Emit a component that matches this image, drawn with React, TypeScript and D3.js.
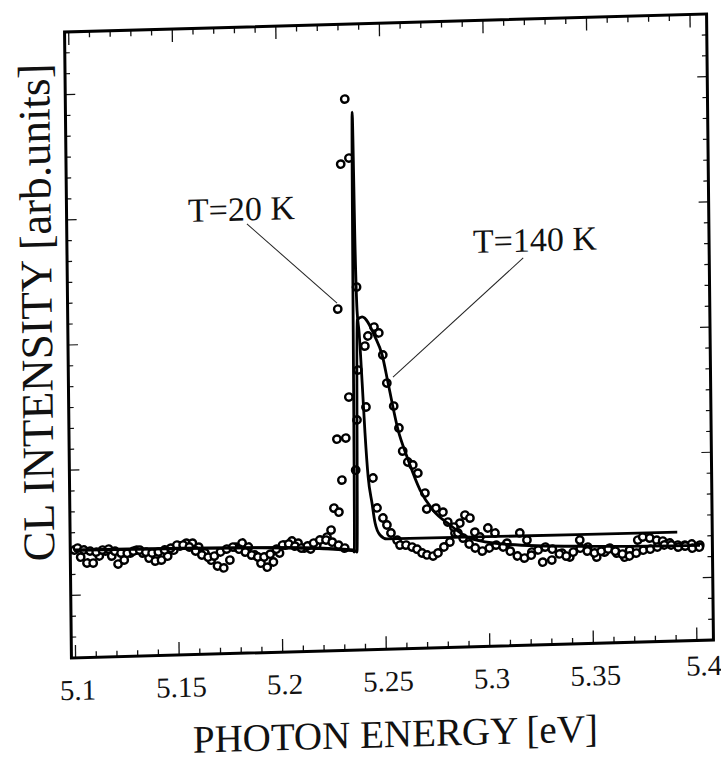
import React from "react";
import * as d3 from "d3";

// ---- data (photon energy in eV, CL intensity in arb. units) ----
const energy20K = [5.100,5.103,5.106,5.109,5.112,5.115,5.118,5.121,5.124,5.127,5.130,5.133,5.136,5.139,5.142,5.145,5.148,5.151,5.154,5.157,5.160,5.163,5.166,5.169,5.172,5.175,5.178,5.181,5.184,5.187,5.190,5.193,5.196,5.199,5.202,5.205,5.208,5.211,5.214,5.217,
  5.2220,5.2240,5.2255,5.2273,5.2279,5.2284,5.2295,5.2306,5.2316,5.2329,5.2333,5.2346,5.2376,5.2415,5.2445,5.2463,5.2491,5.2510,5.2529,5.2558,5.2572,5.2601,5.2630,5.2654,5.2678,5.2702,5.2731,5.2755,5.2784,5.2813,5.2838,5.2862,5.2887,5.2911,5.2934,5.2958,5.2997,5.3031,5.3088,5.3151,5.3185,5.3208,5.3260,5.3304,5.3353,5.3391,5.3440,5.3478,5.3521,5.3560,5.3584,5.3618,5.3656,5.3680,5.3720,5.3744,5.3778,5.3811,5.3840,5.3874,5.3912,5.3946,5.3980,5.4019];
const intensity20K = [5.17,4.82,4.53,4.52,4.85,5.08,4.83,4.44,4.62,4.95,5.08,4.93,4.68,4.53,4.57,4.75,5.03,5.22,5.35,5.34,5.14,4.85,4.50,4.21,4.11,4.48,5.09,5.28,5.08,4.69,4.29,4.09,4.33,4.75,5.12,5.31,5.20,4.95,4.90,5.08,
  5.45,5.78,6.83,10.13,6.63,16.36,8.16,23.30,10.17,26.41,12.13,23.58,17.39,11.63,8.22,6.78,6.29,5.95,5.56,5.21,4.97,4.96,4.86,4.75,4.56,4.46,4.40,4.54,4.82,5.05,5.47,5.94,6.32,6.17,5.49,5.25,5.67,5.42,4.92,5.39,5.04,4.46,3.96,4.05,4.37,4.17,4.97,4.62,4.13,4.36,4.54,4.29,4.09,4.42,4.89,5.03,4.97,4.86,4.81,4.71,4.60,4.59,4.63,4.57];

const energy140K = [5.1015,5.1045,5.1075,5.1105,5.1135,5.1165,5.1195,5.1225,5.1255,5.1285,5.1315,5.1345,5.1375,5.1405,5.1435,5.1465,5.1495,5.1525,5.1555,5.1585,5.1615,5.1645,5.1675,5.1705,5.1735,5.1765,5.1795,5.1825,5.1855,5.1885,5.1915,5.1945,5.1975,5.2005,5.2035,5.2065,5.2095,5.2125,5.2155,5.2185,5.2215,5.2245,5.2275,5.2305,
  5.2362,5.2371,5.2378,5.2413,5.2428,5.2458,5.2481,5.2499,5.2517,5.2549,5.2573,5.2590,5.2614,5.2638,5.2662,5.2695,5.2703,5.2747,5.2781,5.2804,5.2833,5.2852,5.2877,5.2906,5.2935,5.2969,5.3003,5.3036,5.3070,5.3104,5.3138,5.3172,5.3205,5.3239,5.3273,5.3307,5.3341,5.3374,5.3408,5.3442,5.3476,5.3510,5.3543,5.3577,5.3611,5.3645,5.3679,5.3712,5.3746,5.3780,5.3814,5.3848,5.3881,5.3915,5.3949,5.3983,5.4017];
const intensity140K = [5.26,5.16,5.10,5.04,5.13,5.17,5.06,4.96,4.95,5.04,5.08,4.97,4.92,4.96,5.05,5.13,5.27,5.26,5.16,4.96,4.76,4.65,4.69,4.88,5.01,5.10,4.99,4.84,4.69,4.59,4.58,4.71,4.94,5.13,5.17,5.06,4.96,5.05,5.18,5.32,5.31,5.20,5.05,4.90,
  8.62,11.02,13.41,14.55,15.03,15.45,15.16,14.10,12.75,11.64,10.58,9.47,8.94,8.79,8.39,7.43,6.66,6.69,6.49,6.01,5.76,5.47,5.22,4.93,4.73,4.57,4.71,4.84,4.74,4.53,4.29,4.18,4.31,4.55,4.68,4.57,4.33,4.22,4.40,4.58,4.43,4.33,4.41,4.50,4.39,4.24,4.14,4.27,4.40,4.44,4.53,4.62,4.61,4.50,4.54,4.43,4.47];

const fit20KEnergy = [5.100,5.200,5.2345,5.2351,5.2364,5.2371,5.2377,5.2386,5.2398,5.2409,5.2422,5.2439,5.2453,5.2476,5.2510,5.3911];
const fit20KIntensity = [5.15,5.00,4.80,4.70,25.78,19.17,16.29,15.19,12.78,10.38,8.27,7.02,6.06,5.48,5.28,5.22];

const fit140KEnergy = [5.100,5.200,5.2355,5.2364,5.2377,5.2401,5.2463,5.2496,5.2523,5.2569,5.2611,5.2672,5.2733,5.2815,5.2897,5.2959,5.3100,5.3500,5.4020];
const fit140KIntensity = [5.17,5.00,4.75,4.69,15.81,15.95,14.97,14.10,12.75,10.48,9.18,7.58,6.60,5.86,5.26,5.06,4.85,4.65,4.55];

const xTickLabels = [5.1, 5.15, 5.2, 5.25, 5.3, 5.35, 5.4];
const annotationText = ["T=20 K", "T=140 K"];
const annotationAt = [[5.1566, 20.73], [5.2940, 18.86]];
const leaderFrom = [[5.1850, 20.56], [5.3182, 18.56]];
const leaderTo = [[5.2281, 16.65], [5.2547, 13.03]];

const xTitle = "PHOTON ENERGY [eV]";
const yTitle = "CL INTENSITY [arb.units]";

// ---- layout ----
const W = 721, H = 760;
const L = 68, R = 710, T = 23, B = 649;
const FONT = "'Liberation Serif', 'Times New Roman', serif";

export default function App() {
  const x = d3.scaleLinear().domain([5.098, 5.408]).range([L, R]);
  const y = d3.scaleLinear().domain([0, 30]).range([B, T]);

  const line = d3.line<[number, number]>().x(d => x(d[0])).y(d => y(d[1])).curve(d3.curveMonotoneX);
  const fit20 = line(fit20KEnergy.map((e, i) => [e, fit20KIntensity[i]] as [number, number]));
  const fit140 = line(fit140KEnergy.map((e, i) => [e, fit140KIntensity[i]] as [number, number]));

  const xMinor = d3.range(0, 31).map(i => ({ v: 5.1 + i * 0.01, major: i % 5 === 0 }));
  const yMinor = d3.range(1, 30).map(v => ({ v, major: (v - 3) % 6 === 0 }));

  const pts20 = energy20K.map((e, i) => [e, intensity20K[i]]);
  const pts140 = energy140K.map((e, i) => [e, intensity140K[i]]);

  // the scanned page is slightly skewed
  const skew = `matrix(1,-0.028,0.011,1,${-0.011 * 336},${0.028 * 390})`;

  return (
    <svg width={W} height={H} style={{ position: "absolute", left: 0, top: 0, background: "#fff" }}>
      <rect x={0} y={0} width={W} height={H} fill="#fff" />
      <g transform={skew}>
        {/* ticks */}
        {xMinor.map((t, i) => (
          <g key={"xt" + i} stroke="#111" strokeWidth={1.3}>
            <line x1={x(t.v)} x2={x(t.v)} y1={B} y2={B - (t.major ? 13 : 6)} />
            <line x1={x(t.v)} x2={x(t.v)} y1={T} y2={T + (t.major ? 13 : 6)} />
          </g>
        ))}
        {yMinor.map((t, i) => (
          <g key={"yt" + i} stroke="#111" strokeWidth={1.2}>
            <line x1={L} x2={L + (t.major ? 10 : 5)} y1={y(t.v)} y2={y(t.v)} />
            <line x1={R} x2={R - (t.major ? 10 : 5)} y1={y(t.v)} y2={y(t.v)} />
          </g>
        ))}
        {/* frame */}
        <rect x={L} y={T} width={R - L} height={B - T} fill="none" stroke="#000" strokeWidth={3} />

        {/* data */}
        <g fill="#fff" stroke="#000" strokeWidth={2.4}>
          {pts20.map((p, i) => <circle key={"a" + i} cx={x(p[0])} cy={y(p[1])} r={3.7} />)}
          {pts140.map((p, i) => <circle key={"b" + i} cx={x(p[0])} cy={y(p[1])} r={3.7} />)}
        </g>
        {/* fits */}
        <path d={fit20 || ""} fill="none" stroke="#000" strokeWidth={2.8} strokeLinejoin="round" />
        <path d={fit140 || ""} fill="none" stroke="#000" strokeWidth={2.8} strokeLinejoin="round" />

        {/* annotations */}
        {annotationText.map((s, i) => (
          <g key={"an" + i}>
            <text x={x(annotationAt[i][0])} y={y(annotationAt[i][1])} fontFamily={FONT} fontSize={34} fill="#111">{s}</text>
            <line x1={x(leaderFrom[i][0])} y1={y(leaderFrom[i][1])} x2={x(leaderTo[i][0])} y2={y(leaderTo[i][1])} stroke="#222" strokeWidth={1} />
          </g>
        ))}

        {/* x tick labels */}
        {xTickLabels.map((v, i) => (
          <text key={"xl" + i}
            x={x(v) + (i === xTickLabels.length - 1 ? 7 : 2)}
            y={i === xTickLabels.length - 1 ? B + 35 : B + 42}
            textAnchor="middle" fontFamily={FONT} fontSize={29} fill="#111">{String(v)}</text>
        ))}

        {/* axis titles */}
        <text x={(L + R) / 2 + 2} y={B + 98} textAnchor="middle" fontFamily={FONT} fontSize={39} fill="#111">{xTitle}</text>
        <text transform={`translate(${L - 16},${y(16.6)}) rotate(-90)`} textAnchor="middle" fontFamily={FONT} fontSize={45} fill="#111">{yTitle}</text>
      </g>
    </svg>
  );
}
